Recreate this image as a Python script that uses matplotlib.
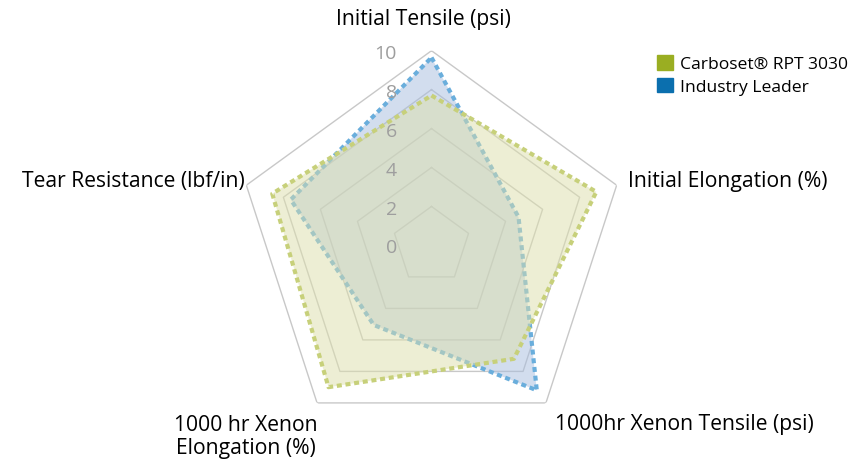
import matplotlib.pyplot as plt
import matplotlib.patches as mpatches
import matplotlib.transforms as mtransforms
import numpy as np

plt.rcParams['font.family'] = ['Open Sans', 'DejaVu Sans']

categories = ["Initial Tensile (psi)", "Initial Elongation (%)",
              "1000hr Xenon Tensile (psi)", "1000 hr Xenon\nElongation (%)",
              "Tear Resistance (lbf/in)"]
seriesNames = ["Carboset\u00ae RPT 3030", "Industry Leader"]
carboset = [7.7, 8.9, 7.2, 9.0, 8.6]
industry = [9.65, 4.7, 9.2, 5.05, 7.6]
ticks = [0, 2, 4, 6, 8, 10]

legendColors = ["#9aae22", "#0b6fae"]
lineColors = ["#c7d07a", "#6aaedc"]
fillColors = ["#dddfab", "#a7bddf"]

W, H = 861, 464
cx, cy, R = 431.5, 246.4, 194.7

fig = plt.figure(figsize=(W / 100, H / 100), dpi=100)
ax = fig.add_axes([(cx - R) / W, (H - cy - R) / H, 2 * R / W, 2 * R / H], polar=True)
ax.set_theta_offset(np.pi / 2)
ax.set_theta_direction(-1)
ax.set_ylim(0, 10)
ax.grid(False)
ax.spines['polar'].set_visible(False)
ax.set_xticks([])
ax.set_yticks([])
ax.patch.set_alpha(0)

n = len(categories)
angles = np.linspace(0, 2 * np.pi, n, endpoint=False)
closed = np.concatenate([angles, angles[:1]])

# pentagon gridlines
for t in ticks[1:]:
    ax.plot(closed, [t] * (n + 1), color="#c8c8c8", lw=1, zorder=1)

# industry leader first, carboset drawn over it
z = 2
for vals, fc, lc in zip([industry, carboset], fillColors[::-1], lineColors[::-1]):
    v = vals + vals[:1]
    ax.fill(closed, v, color=fc, alpha=0.5, lw=0, zorder=z)
    ax.plot(closed, v, color=lc, lw=3, linestyle=(0, (1.2, 0.9)), zorder=z + 1)
    z += 2

# radial labels just left of the vertical axis
off = mtransforms.offset_copy(ax.transData, fig=fig, x=-25, y=-1.5, units='points')
for t in ticks:
    ax.text(0, t, str(t), transform=off, ha='right', va='center',
            fontsize=14, color="#9e9e9e", zorder=7)

fs = 15.2
fig.text(423 / W, 1 - 19 / H, categories[0], ha='center', va='center', fontsize=fs)
fig.text(628 / W, 1 - 181 / H, categories[1], ha='left', va='center', fontsize=fs)
fig.text(555 / W, 1 - 425 / H, categories[2], ha='left', va='center', fontsize=fs)
fig.text(246 / W, 1 - 437 / H, categories[3], ha='center', va='center', fontsize=fs,
         linespacing=1.15)
fig.text(245 / W, 1 - 182 / H, categories[4], ha='right', va='center', fontsize=fs)

handles = [mpatches.Patch(color=c, label=l) for c, l in zip(legendColors, seriesNames)]
fig.legend(handles=handles, loc='upper left', bbox_to_anchor=(650 / W, 1 - 49 / H),
           frameon=False, fontsize=12.6, handlelength=0.9, handleheight=0.9,
           handletextpad=0.4, borderaxespad=0, labelspacing=0.3)

fig.savefig("out.png", dpi=100)
